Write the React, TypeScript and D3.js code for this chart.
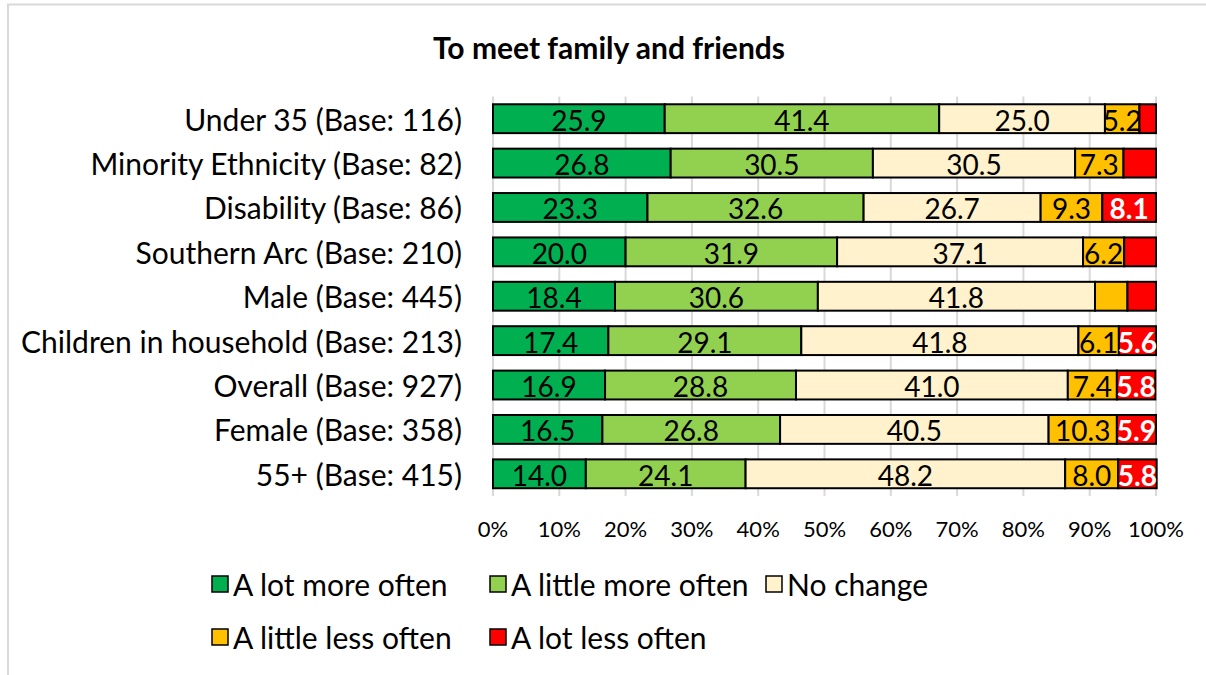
import React, { useEffect } from "react";
import * as d3 from "d3";

const categories = [
  "Under 35 (Base: 116)",
  "Minority Ethnicity (Base: 82)",
  "Disability (Base: 86)",
  "Southern Arc (Base: 210)",
  "Male (Base: 445)",
  "Children in household (Base: 213)",
  "Overall (Base: 927)",
  "Female (Base: 358)",
  "55+ (Base: 415)",
];

const seriesNames = [
  "A lot more often",
  "A little more often",
  "No change",
  "A little less often",
  "A lot less often",
];

const aLotMore = [25.9, 26.8, 23.3, 20.0, 18.4, 17.4, 16.9, 16.5, 14.0];
const aLittleMore = [41.4, 30.5, 32.6, 31.9, 30.6, 29.1, 28.8, 26.8, 24.1];
const noChange = [25.0, 30.5, 26.7, 37.1, 41.8, 41.8, 41.0, 40.5, 48.2];
const aLittleLess = [5.2, 7.3, 9.3, 6.2, 4.9, 6.1, 7.4, 10.3, 8.0];
const aLotLess = [2.5, 4.9, 8.1, 4.8, 4.3, 5.6, 5.8, 5.9, 5.8];

const xTicks = [0, 0.1, 0.2, 0.3, 0.4, 0.5, 0.6, 0.7, 0.8, 0.9, 1.0];

const colors = ["#00B050", "#92D050", "#FFF2CC", "#FFC000", "#FF0000"];
const labelColors = ["#000", "#000", "#000", "#000", "#fff"];
const labelWeights = ["normal", "normal", "normal", "normal", "bold"];

const FONT = "Lato, 'Open Sans', sans-serif";

export default function App() {
  const W = 1206;
  const H = 675;
  const values = [aLotMore, aLittleMore, noChange, aLittleLess, aLotLess];

  useEffect(() => {
    document.body.style.margin = "0";
    document.body.style.overflow = "hidden";
    document.documentElement.style.overflow = "hidden";
  }, []);

  const x = d3.scaleLinear().domain([0, 1]).range([493, 1156]);
  const y = d3
    .scaleBand<string>()
    .domain(categories)
    .range([96.5, 496])
    .paddingInner(0.35)
    .paddingOuter(0.175);

  const rows = categories.map((c, i) => {
    let acc = 0;
    const segs = values.map((s, k) => {
      const v = s[i] / 100;
      const seg = { k, x0: acc, x1: acc + v, v: s[i] };
      acc += v;
      return seg;
    });
    return { c, segs };
  });

  const legendPos = [
    { x: 211, y: 584 },
    { x: 489, y: 584 },
    { x: 765, y: 584 },
    { x: 211, y: 637 },
    { x: 489, y: 637 },
  ];

  return (
    <svg
      width={W}
      height={H}
      style={{ position: "absolute", left: 0, top: 0, background: "#fff", display: "block" }}
      fontFamily={FONT}
    >
      <rect x={0} y={0} width={W} height={H} fill="#fff" />
      <line x1={7} x2={W + 2} y1={4.5} y2={4.5} stroke="#D9D9D9" strokeWidth={2} />
      <line x1={8} x2={8} y1={4} y2={H + 2} stroke="#D9D9D9" strokeWidth={2} />
      <text
        x={609}
        y={47}
        textAnchor="middle"
        dominantBaseline="central"
        fontWeight="bold"
        fontSize={30}
        fill="#000"
      >
        To meet family and friends
      </text>

      {xTicks.map((t) => (
        <line
          key={"g" + t}
          x1={x(t)}
          x2={x(t)}
          y1={96.5}
          y2={496}
          stroke="#D9D9D9"
          strokeWidth={2}
        />
      ))}
      {xTicks.map((t) => (
        <text
          key={"t" + t}
          x={x(t)}
          y={528}
          textAnchor="middle"
          dominantBaseline="central"
          fontSize={22}
          fill="#000"
        >
          {d3.format(".0%")(t)}
        </text>
      ))}

      {rows.map((r) => (
        <g key={r.c}>
          <text
            x={462}
            y={(y(r.c) as number) + y.bandwidth() / 2}
            textAnchor="end"
            dominantBaseline="central"
            fontSize={30}
            fill="#000"
          >
            {r.c}
          </text>
          {r.segs.map((s) => (
            <rect
              key={s.k}
              x={x(s.x0)}
              y={y(r.c)}
              width={x(s.x1) - x(s.x0)}
              height={y.bandwidth()}
              fill={colors[s.k]}
              stroke="#000"
              strokeWidth={2}
            />
          ))}
          {r.segs
            .filter((s) => s.v >= 5)
            .map((s) => (
              <text
                key={"l" + s.k}
                x={(x(s.x0) + x(s.x1)) / 2}
                y={(y(r.c) as number) + y.bandwidth() / 2 + 1}
                textAnchor="middle"
                dominantBaseline="central"
                fontSize={28}
                fontWeight={labelWeights[s.k]}
                fill={labelColors[s.k]}
              >
                {d3.format(".1f")(s.v)}
              </text>
            ))}
        </g>
      ))}

      {seriesNames.map((n, k) => (
        <g key={n}>
          <rect
            x={legendPos[k].x + 1}
            y={legendPos[k].y - 8}
            width={16}
            height={16}
            fill={colors[k]}
            stroke="#000"
            strokeWidth={1.5}
          />
          <text
            x={legendPos[k].x + 22}
            y={legendPos[k].y}
            dominantBaseline="central"
            fontSize={30}
            fill="#000"
          >
            {n}
          </text>
        </g>
      ))}
    </svg>
  );
}
